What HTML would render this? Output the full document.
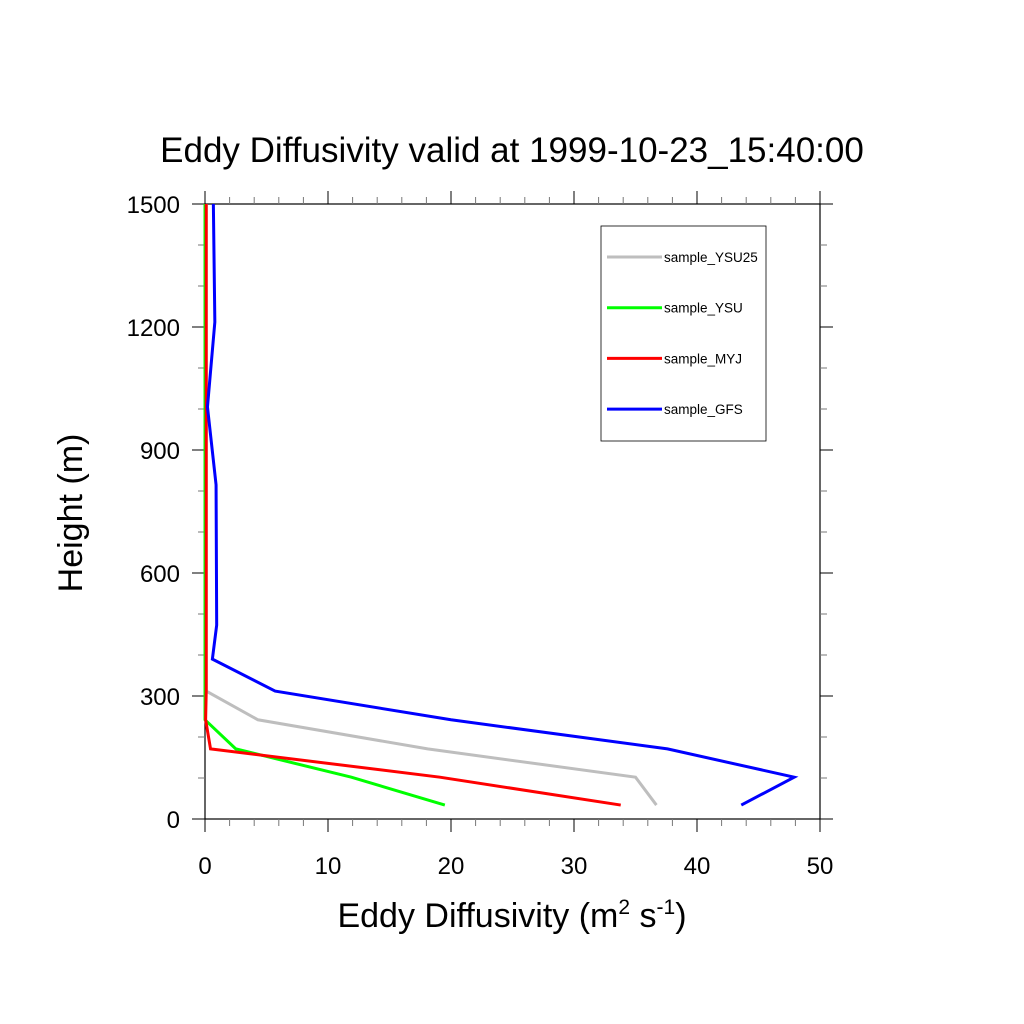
<!DOCTYPE html>
<html><head><meta charset="utf-8"><style>
body{margin:0;background:#fff;}
svg{display:block;font-family:"Liberation Sans",sans-serif;}
</style></head><body>
<svg id="chart" width="1024" height="1024" viewBox="0 0 1024 1024">
<text x="512" y="162" font-size="35" text-anchor="middle">Eddy Diffusivity valid at 1999-10-23_15:40:00</text>
<g id="axes"></g>
<g id="series"></g>
<text transform="translate(82,513) rotate(-90)" font-size="34" text-anchor="middle">Height (m)</text>
<text x="512" y="927" font-size="34" text-anchor="middle">Eddy Diffusivity (m<tspan font-size="21" dy="-13">2</tspan><tspan dy="13"> s</tspan><tspan font-size="21" dy="-13">-1</tspan><tspan dy="13">)</tspan></text>
<g id="legend">
<rect x="601" y="226" width="165" height="215" fill="none" stroke="#000" stroke-width="0.8"/>
</g>
</svg>
<script>
const heights = [34,102,171,242,312,390,473,815,1005,1212,1500];
const seriesNames = ["sample_YSU25","sample_YSU","sample_MYJ","sample_GFS"];
const ysu25 = [36.7,35.0,18.1,4.3,0.1,0.1,0.1,0.1,0.1,0.1,0.1];
const ysu = [19.5,11.9,2.5,0.0,0.0,0.0,0.0,0.0,0.0,0.0,0.0];
const myj = [33.8,19.1,0.45,0.05,0.1,0.1,0.1,0.1,0.1,0.1,0.1];
const gfs = [43.6,47.9,37.6,20.0,5.7,0.6,0.95,0.9,0.2,0.8,0.68];
const xTicks = [0,10,20,30,40,50];
const yTicks = [0,300,600,900,1200,1500];
const colors = ["#bebebe","#00ff00","#ff0000","#0000ff"];
const X0=205,X1=820,Y0=819,Y1=204;
const sx=v=>X0+(v-0)/(50-0)*(X1-X0);
const sy=v=>Y0-(v-0)/(1500-0)*(Y0-Y1);
const NS="http://www.w3.org/2000/svg";
function mk(tag,attrs,parent){const e=document.createElementNS(NS,tag);for(const k in attrs)e.setAttribute(k,attrs[k]);parent.appendChild(e);return e;}
const axes=document.getElementById('axes');
const fr=mk('rect',{x:X0,y:Y1,width:X1-X0,height:Y0-Y1,fill:'none',stroke:'#000','stroke-width':1.2},axes);


for(let v=0;v<=50;v+=2){const major=v%10===0;const L=major?13:7;const x=sx(v);const c=major?'#000':'#777';
 const t1=mk('line',{x1:x,y1:Y0,x2:x,y2:Y0+L,stroke:c,'stroke-width':1},axes);
 
 
 const t2=mk('line',{x1:x,y1:Y1,x2:x,y2:Y1-L,stroke:c,'stroke-width':1},axes);
 
 }
for(let v=0;v<=1500;v+=100){const major=v%300===0;const L=major?13:7;const y=sy(v);const c=major?'#000':'#777';
 const t1=mk('line',{x1:X0-L,y1:y,x2:X0,y2:y,stroke:c,'stroke-width':1},axes);
 
 
 const t2=mk('line',{x1:X1,y1:y,x2:X1+L,y2:y,stroke:c,'stroke-width':1},axes);
 
 }
xTicks.forEach(v=>{const t=mk('text',{x:sx(v),y:874,'font-size':24,'text-anchor':'middle'},axes);t.textContent=v;
 
 });
yTicks.forEach(v=>{const t=mk('text',{x:180,y:sy(v)+9,'font-size':24,'text-anchor':'end'},axes);t.textContent=v;
 
 });
const ser=document.getElementById('series');
[ysu25,ysu,myj,gfs].forEach((arr,i)=>{
 const pts=arr.map((v,j)=>sx(v)+','+sy(heights[j])).join(' ');
 const p=mk('polyline',{points:pts,fill:'none',stroke:colors[i],'stroke-width':3,'stroke-linejoin':'miter'},ser);
 
 
});
const leg=document.getElementById('legend');
seriesNames.forEach((n,i)=>{const y=257+i*50.7;
 const l=mk('line',{x1:607,y1:y,x2:662,y2:y,stroke:colors[i],'stroke-width':3},leg);
 
 
 const t=mk('text',{x:664,y:y+5,'font-size':13.5},leg);t.textContent=n;
 
 });
</script>
</body></html>
